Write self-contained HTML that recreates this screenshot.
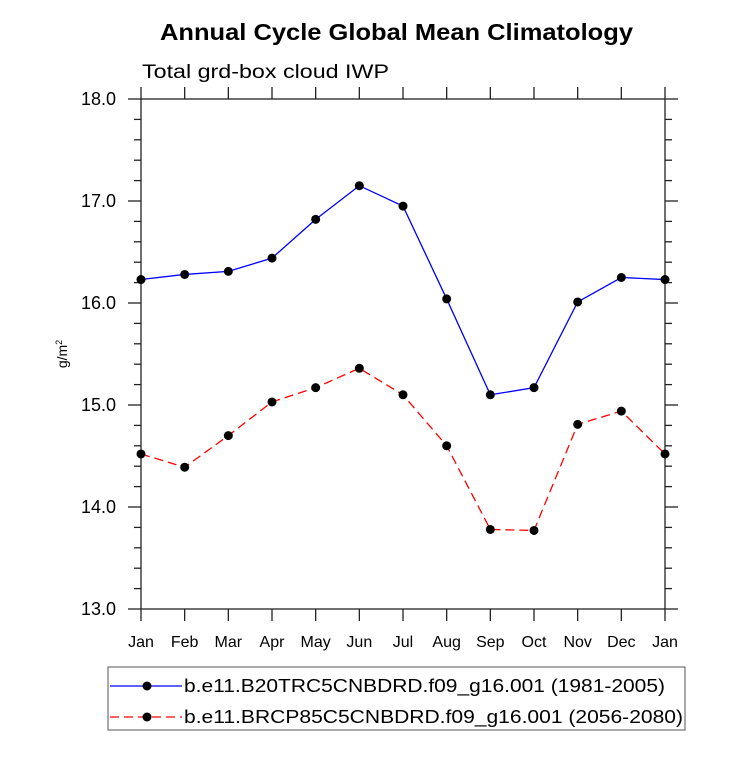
<!DOCTYPE html>
<html><head><meta charset="utf-8"><style>
body{margin:0;background:#fff}
text{font-family:"Liberation Sans",sans-serif}
</style></head><body>
<svg id="c" width="733" height="756" xmlns="http://www.w3.org/2000/svg">
<text x="160" y="40" textLength="473" lengthAdjust="spacingAndGlyphs" font-size="23" font-weight="bold">Annual Cycle Global Mean Climatology</text>
<text x="142" y="78" textLength="247" lengthAdjust="spacingAndGlyphs" font-size="19">Total grd-box cloud IWP</text>
<text transform="translate(67,354) rotate(-90)" text-anchor="middle" font-size="14">g/m<tspan dy="-5" font-size="9">2</tspan></text>
<rect x="141" y="99" width="524" height="510" fill="none" stroke="#222" stroke-width="1.3"/>
<g id="axes"></g>
<g id="series"></g>
<rect x="108" y="667" width="577" height="63" fill="none" stroke="#555" stroke-width="1"/>
<g>
<line x1="110" y1="686" x2="182" y2="686" stroke="#0000ff" stroke-width="1.3"/>
<circle cx="147" cy="686" r="4.5" fill="#000"/>
<text x="184" y="692" textLength="481" lengthAdjust="spacingAndGlyphs" font-size="18">b.e11.B20TRC5CNBDRD.f09_g16.001 (1981-2005)</text>
</g>
<g>
<line x1="110" y1="717" x2="182" y2="717" stroke="#ff0000" stroke-width="1.3" stroke-dasharray="9,5"/>
<circle cx="147" cy="717" r="4.5" fill="#000"/>
<text x="184" y="723" textLength="499" lengthAdjust="spacingAndGlyphs" font-size="18">b.e11.BRCP85C5CNBDRD.f09_g16.001 (2056-2080)</text>
</g>
</svg>
<script>
const months=["Jan","Feb","Mar","Apr","May","Jun","Jul","Aug","Sep","Oct","Nov","Dec","Jan"];
const histValues=[16.23,16.28,16.31,16.44,16.82,17.15,16.95,16.04,15.10,15.17,16.01,16.25,16.23];
const futValues=[14.52,14.39,14.70,15.03,15.17,15.36,15.10,14.60,13.78,13.77,14.81,14.94,14.52];
const yTicks=["13.0","14.0","15.0","16.0","17.0","18.0"];
const NS="http://www.w3.org/2000/svg";
const X0=141,X1=665,Y0=609,Y1=99,ymin=13,ymax=18;
function xs(i){return X0+(X1-X0)*i/(months.length-1);}
function ys(v){return Y0-(v-ymin)/(ymax-ymin)*(Y0-Y1);}
function mk(t,a,p){const e=document.createElementNS(NS,t);for(const k in a)e.setAttribute(k,a[k]);p.appendChild(e);return e;}
const ax=document.getElementById('axes');
months.forEach((m,i)=>{const x=xs(i);
 mk('line',{x1:x,y1:Y0,x2:x,y2:Y0+12,stroke:'#222','stroke-width':1.3},ax);
 mk('line',{x1:x,y1:Y1,x2:x,y2:Y1-12,stroke:'#222','stroke-width':1.3},ax);
 const t=mk('text',{x:x,y:647,'text-anchor':'middle','font-size':16},ax);t.textContent=m;
 
 
});
for(let v=ymin;v<=ymax+1e-6;v+=0.2){const y=ys(v);const major=Math.abs(v-Math.round(v))<1e-6;const L=major?13:7;
 mk('line',{x1:X0-L,y1:y,x2:X0,y2:y,stroke:'#222','stroke-width':1.3},ax);
 mk('line',{x1:X1,y1:y,x2:X1+L,y2:y,stroke:'#222','stroke-width':1.3},ax);}
yTicks.forEach(s=>{const t=mk('text',{x:116,y:ys(parseFloat(s))+6,'text-anchor':'end','font-size':18},ax);t.textContent=s;
 
 
});
const sg=document.getElementById('series');
function draw(vals,color,dash,name){
 const g=mk('g',{},sg);
 
 
 mk('polyline',{points:vals.map((v,i)=>xs(i)+','+ys(v)).join(' '),fill:'none',stroke:color,'stroke-width':1.3,'stroke-dasharray':dash},g);
 vals.forEach((v,i)=>{const c=mk('circle',{cx:xs(i),cy:ys(v),r:4.5,fill:'#000'},g);
  
  });
}
draw(histValues,'#0000ff','none','series-1981-2005');
draw(futValues,'#ff0000','9,5','series-2056-2080');
</script>
</body></html>
